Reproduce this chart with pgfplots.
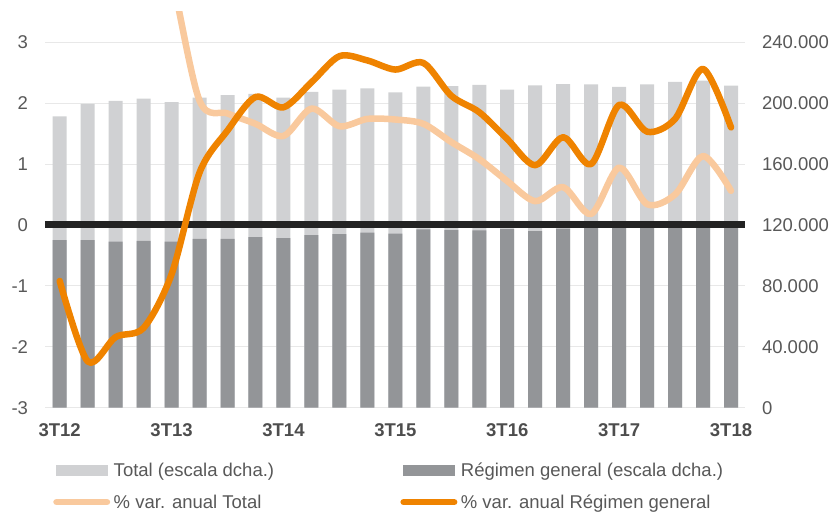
\documentclass[border=0pt]{standalone}
\usepackage{pgfplots}
\usepackage{pgfplotstable}
\pgfplotsset{compat=1.18}
\usepackage{fontspec}
\setmainfont{Liberation Sans}
\definecolor{lgray}{RGB}{208,209,211}
\definecolor{dgray}{RGB}{147,149,152}
\definecolor{orng}{RGB}{239,131,0}
\definecolor{lorng}{RGB}{249,201,157}
\definecolor{txt}{RGB}{88,88,88}
\definecolor{xtxt}{RGB}{77,77,77}
\definecolor{gridc}{RGB}{232,232,232}
\definecolor{zline}{RGB}{35,35,35}
\newcommand\fs{\fontsize{18.5pt}{22pt}\selectfont}

\pgfplotstableread{
x total rg
0 191300 110000
1 199400 110000
2 201500 109100
3 202900 109600
4 200700 109100
5 203500 110900
6 205300 110900
7 206000 112000
8 203500 111300
9 207300 113300
10 208800 113900
11 209700 114900
12 207100 114300
13 210800 117000
14 211200 116600
15 211900 116400
16 208800 117200
17 211700 115900
18 212500 117500
19 212300 118500
20 210600 119000
21 212300 119500
22 213900 120000
23 214700 120500
24 211400 120500
}\bars

\pgfplotstableread{
x vt vrg
0 12 -0.92
1 11 -2.24
2 9 -1.84
3 6 -1.69
4 4.1 -0.81
5 2.04 0.86
6 1.83 1.55
7 1.66 2.10
8 1.46 1.93
9 1.91 2.34
10 1.62 2.77
11 1.74 2.70
12 1.73 2.55
13 1.66 2.66
14 1.36 2.12
15 1.08 1.85
16 0.72 1.41
17 0.39 0.98
18 0.62 1.44
19 0.18 1.00
20 0.94 1.97
21 0.34 1.53
22 0.50 1.74
23 1.13 2.56
24 0.56 1.60
}\lines

\pgfplotsset{
  common/.style={
    scale only axis, width=700pt, height=396pt,
    xmin=-0.525, xmax=24.5,
    axis line style={draw=none},
    major tick length=0pt,
    tick style={draw=none},
    every tick label/.append style={inner sep=0pt, outer sep=0pt},
  }
}

\begin{document}
\begin{tikzpicture}
\useasboundingbox (-45pt,-110.3pt) rectangle (790pt,407.7pt);
% right axis with bars
\begin{axis}[common,
  ymin=0, ymax=260000,
  ytick={0,40000,80000,120000,160000,200000,240000},
  yticklabels={0,40.000,80.000,120.000,160.000,200.000,240.000},
  scaled y ticks=false,
  yticklabel pos=right,
  yticklabel style={font=\fs, text=txt, anchor=west},
  yticklabel shift=17pt,
  ymajorgrids, grid style={gridc, line width=1pt},
  xtick={0,4,8,12,16,20,24},
  xticklabels={3T12,3T13,3T14,3T15,3T16,3T17,3T18},
  xticklabel style={font=\fs\bfseries, text=xtxt, anchor=north},
  xticklabel shift=16pt,
]
\addplot[ybar, bar width=14pt, bar shift=0pt, fill=lgray, draw=none] table[x=x, y=total] {\bars};
\addplot[ybar, bar width=14pt, bar shift=0pt, fill=dgray, draw=none] table[x=x, y=rg] {\bars};
\end{axis}
% left axis with lines
\begin{axis}[common,
  ymin=-3, ymax=3.5,
  ytick={-3,-2,-1,0,1,2,3},
  yticklabels={-3,-2,-1,0,1,2,3},
  yticklabel pos=left,
  yticklabel style={font=\fs, text=txt, anchor=east},
  yticklabel shift=17pt,
  xtick=\empty,
  legend columns=2,
  legend style={draw=none, fill=none, inner sep=0pt, outer sep=0pt,
    at={(axis description cs:0.00714,-0.1412)}, anchor=north west,
    font=\fs, text=txt, row sep=15pt,
    nodes={inner sep=0pt, outer sep=0pt, text height=13pt, text depth=4pt, anchor=base west},
    /tikz/every odd column/.append style={column sep=3.5pt},
    /tikz/every even column/.append style={column sep=123pt}},
]
\addlegendimage{legend image code/.code={\path (0pt,0pt); \fill[lgray] (3pt,1.5pt) rectangle (54pt,11.5pt);}}
\addlegendentry{Total (escala dcha.)}
\addlegendimage{legend image code/.code={\path (0pt,0pt); \fill[dgray] (3pt,1.5pt) rectangle (54pt,11.5pt);}}
\addlegendentry{Régimen general (escala dcha.)}
\addplot[zline, line width=7pt, forget plot] coordinates {(-0.525,0) (24.5,0)};
\addplot[lorng, line width=6.5pt, smooth, tension=0.5, line join=round, line cap=round,
  legend image code/.code={\path (0pt,0pt); \draw[lorng, line width=6.5pt, line cap=round] (3.25pt,6.5pt) -- (53.75pt,6.5pt);}]
  table[x=x, y=vt] {\lines};
\addlegendentry{\% var. anual Total}
\addplot[orng, line width=6.5pt, smooth, tension=0.5, line join=round, line cap=round,
  legend image code/.code={\path (0pt,0pt); \draw[orng, line width=6.5pt, line cap=round] (3.25pt,6.5pt) -- (53.75pt,6.5pt);}]
  table[x=x, y=vrg] {\lines};
\addlegendentry{\% var. anual Régimen general}
\end{axis}
\end{tikzpicture}
\end{document}
